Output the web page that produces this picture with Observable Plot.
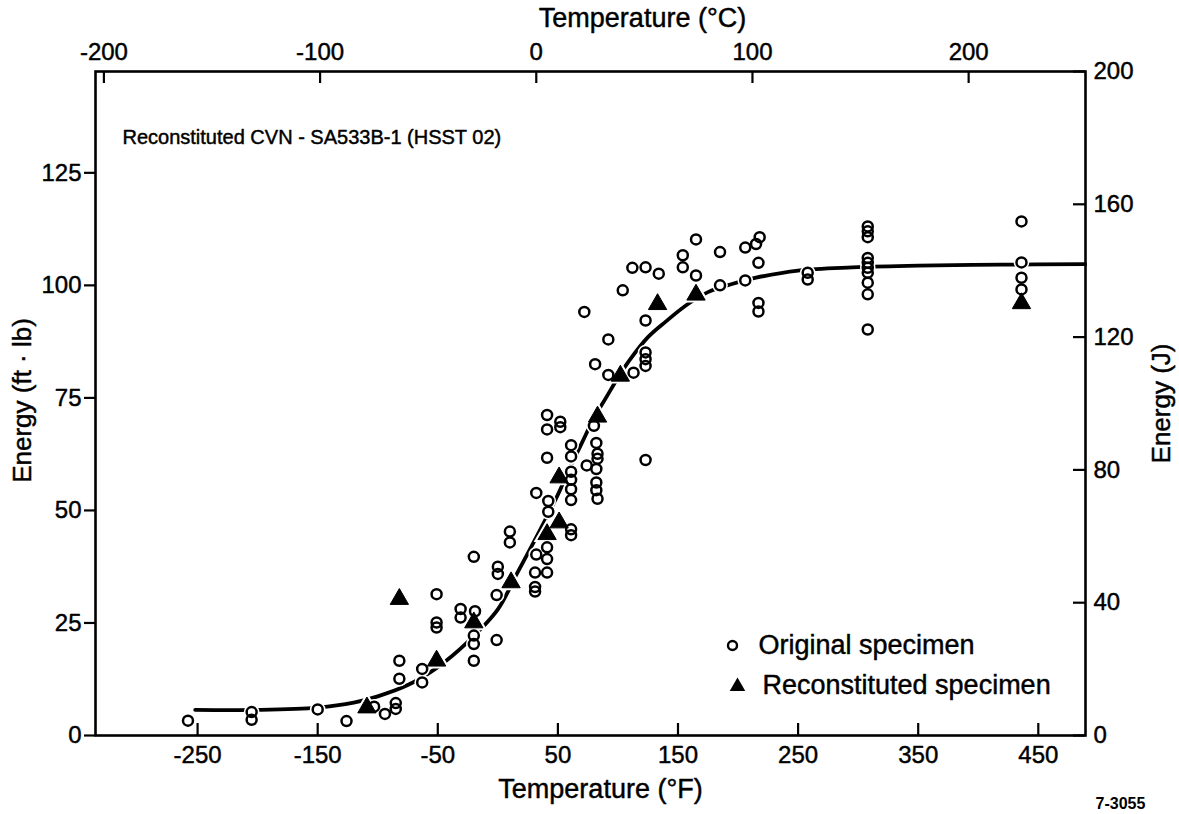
<!DOCTYPE html>
<html>
<head>
<meta charset="utf-8">
<script src="https://cdn.jsdelivr.net/npm/d3@7"></script>
<script src="https://cdn.jsdelivr.net/npm/@observablehq/plot@0.6"></script>
<style>
  html, body { margin: 0; padding: 0; background: #fff; }
  #chart svg { display: block; }
</style>
</head>
<body>
<div id="chart"></div>
<script>
// Charpy V-notch impact energy vs. test temperature, SA533B-1 plate (HSST 02)

// Original specimens: test temperature (°F) and absorbed energy (ft·lb)
const originalTemp = [
  -258, -205, -205, -150, -126, -103, -94, -85, -85, -82, -82, -63, -63,
  -51, -51, -51, -31, -31, -19, -20, -20, -20, -20, -1, -1, 0, 0, 10, 10,
  31, 31, 32, 31, 32, 41, 41, 41, 42, 42, 41, 41, 41, 52, 52, 61, 61,
  61, 61, 61, 61, 61, 61, 74, 80, 82, 83, 83, 82, 82, 82, 83,
  81, 92, 92, 113, 123, 123, 123, 123, 123, 72, 104, 112, 123, 134,
  154, 154, 165, 165, 185, 185, 206, 206, 215, 218, 217, 217, 217, 258, 258,
  308, 308, 308, 308, 308, 308, 308, 308, 308, 308,
  436, 436, 436, 436
];
const originalEnergy = [
  3.3, 5.2, 3.5, 5.8, 3.2, 6.4, 4.8, 7.2, 5.9, 16.6, 12.6, 14.8, 11.8,
  31.4, 25.1, 24.0, 28.1, 26.2, 27.6, 22.2, 20.3, 16.6, 39.7, 31.2, 21.2, 37.5, 35.9, 45.3, 42.9,
  33.0, 32.0, 40.2, 36.2, 53.9, 41.8, 39.2, 36.2, 52.1, 49.7, 71.2, 68.0, 61.7, 69.7, 68.5, 45.8, 44.5,
  64.5, 62.0, 58.6, 56.8, 54.7, 52.3, 60.0, 68.8, 65.0, 62.6, 61.5, 59.2, 56.2, 54.5, 52.6,
  82.5, 88.0, 80.1, 80.6, 85.1, 83.6, 82.1, 92.2, 61.2, 94.1, 98.9, 103.9, 104.0, 102.6,
  106.7, 104.0, 110.2, 102.2, 107.4, 100.0, 108.4, 101.1, 109.2, 110.7, 105.0, 96.1, 94.2, 102.8, 101.3,
  113.1, 112.0, 110.7, 106.1, 105.0, 103.9, 102.8, 100.6, 98.0, 90.2,
  114.2, 105.1, 101.7, 99.1
];

// Reconstituted specimens
const reconTemp = [-109, -82, -51, -20, 11, 41, 51, 51, 83, 102, 133, 165, 436];
const reconEnergy = [6.2, 30.3, 16.6, 25.1, 34.0, 44.7, 47.3, 57.3, 70.8, 79.9, 95.8, 97.9, 96.0];

// Fitted transition curve, read along its length
const curveTemp = [-252, -200, -150, -120, -100, -75, -50, -25, 0, 15, 30, 50, 60, 70, 80, 90,
  100, 110, 125, 140, 158, 175, 195, 215, 250, 295, 350, 420, 489];
const curveEnergy = [5.7, 5.7, 6.2, 7.3, 8.7, 11.2, 15.2, 20.8, 28.0, 35.5, 43.0, 53.5, 59.5, 65.0, 70.5, 75.0,
  79.5, 83.5, 88.5, 92.0, 95.8, 98.5, 100.3, 101.7, 103.3, 104.0, 104.4, 104.6, 104.7];

// Axis ticks
const fahrenheitTicks = [-250, -150, -50, 50, 150, 250, 350, 450];
const celsiusTicks = [-200, -100, 0, 100, 200];
const ftlbTicks = [0, 25, 50, 75, 100, 125];
const jouleTicks = [0, 40, 80, 120, 160, 200];

const legendLabels = ["Original specimen", "Reconstituted specimen"];

const JOULE_PER_FTLB = 1.35582;
const cToF = c => c * 9 / 5 + 32;
const jToFtlb = j => j / JOULE_PER_FTLB;

const original = originalTemp.map((t, i) => ({t, e: originalEnergy[i]}));
const recon = reconTemp.map((t, i) => ({t, e: reconEnergy[i]}));
const curve = curveTemp.map((t, i) => ({t, e: curveEnergy[i]}));

const W = 1179, H = 814;
const M = {top: 71, right: 94, bottom: 79, left: 95};
const frameW = W - M.left - M.right;
const frameH = H - M.top - M.bottom;
const font = "'Liberation Sans', Arial, Helvetica, sans-serif";
// thin outline gives the lettering a slightly heavier weight; labels are centred on their anchor line
const ink = {fill: "black", stroke: "black", strokeWidth: 0.45, lineAnchor: "middle"};

const chart = Plot.plot({
  width: W,
  height: H,
  marginTop: M.top,
  marginRight: M.right,
  marginBottom: M.bottom,
  marginLeft: M.left,
  style: {fontFamily: font, color: "black", background: "white"},
  x: {domain: [-335, 489.3], axis: null},
  y: {domain: [0, jToFtlb(200)], axis: null},
  marks: [
    // transition curve
    Plot.line(curve, {x: "t", y: "e", curve: "catmull-rom", stroke: "black", strokeWidth: 3.8}),
    // white knock-outs so the curve breaks around each symbol
    Plot.dot(original, {x: "t", y: "e", r: 7.8, fill: "white"}),
    Plot.dot(recon, {x: "t", y: "e", symbol: "triangle", r: 10, fill: "white"}),
    // data symbols
    Plot.dot(original, {x: "t", y: "e", r: 5, fill: "none", stroke: "black", strokeWidth: 2.5}),
    Plot.dot(recon, {x: "t", y: "e", symbol: "triangle", r: 6.8, fill: "black", stroke: "black", strokeWidth: 1}),

    // frame and tick marks
    Plot.frame({stroke: "black", strokeWidth: 2.6}),
    Plot.tickX(fahrenheitTicks, {x: d => d, insetTop: frameH - 12, strokeWidth: 2.2}),
    Plot.tickX(celsiusTicks, {x: cToF, insetBottom: frameH - 12, strokeWidth: 2.2}),
    Plot.tickY(ftlbTicks, {y: d => d, insetLeft: -11, insetRight: frameW, strokeWidth: 2.2}),
    Plot.tickY(jouleTicks, {y: jToFtlb, insetLeft: frameW - 12, strokeWidth: 2.2}),

    // tick labels
    Plot.text(fahrenheitTicks, {x: d => d, text: d => String(d), frameAnchor: "bottom", dy: 20, fontSize: 24, ...ink}),
    Plot.text(celsiusTicks, {x: cToF, text: d => String(d), frameAnchor: "top", dy: -19, fontSize: 24, ...ink}),
    Plot.text(ftlbTicks, {y: d => d, text: d => String(d), frameAnchor: "left", dx: -14, textAnchor: "end", fontSize: 24, ...ink}),
    Plot.text(jouleTicks, {y: jToFtlb, text: d => String(d), frameAnchor: "right", dx: 8, textAnchor: "start", fontSize: 24, ...ink}),

    // axis titles
    Plot.text(["Temperature (°F)"], {text: d => d, frameAnchor: "bottom", textAnchor: "middle", dx: 10, dy: 54, fontSize: 27, ...ink}),
    Plot.text(["Temperature (°C)"], {text: d => d, frameAnchor: "top", textAnchor: "middle", dx: 52, dy: -53, fontSize: 27, ...ink}),
    Plot.text(["Energy (ft · lb)"], {text: d => d, frameAnchor: "left", textAnchor: "middle", dx: -73, dy: -3, rotate: -90, fontSize: 26, ...ink}),
    Plot.text(["Energy (J)"], {text: d => d, frameAnchor: "right", textAnchor: "middle", dx: 76, rotate: -90, fontSize: 26, ...ink}),

    // specimen description
    Plot.text(["Reconstituted CVN - SA533B-1 (HSST 02)"], {text: d => d, frameAnchor: "top-left", textAnchor: "start", dx: 27, dy: 66, fontSize: 20, ...ink}),

    // legend
    Plot.dot(legendLabels.slice(0, 1), {frameAnchor: "bottom-right", dx: -353, dy: -90, r: 4.5, fill: "none", stroke: "black", strokeWidth: 2.4}),
    Plot.dot(legendLabels.slice(1, 2), {frameAnchor: "bottom-right", dx: -348, dy: -49, symbol: "triangle", r: 5.8, fill: "black"}),
    Plot.text(legendLabels.slice(0, 1), {text: d => d, frameAnchor: "bottom-right", textAnchor: "start", dx: -327, dy: -90, fontSize: 27, ...ink}),
    Plot.text(legendLabels.slice(1, 2), {text: d => d, frameAnchor: "bottom-right", textAnchor: "start", dx: -323, dy: -50, fontSize: 27, ...ink}),

    // figure number
    Plot.text(["7-3055"], {text: d => d, frameAnchor: "bottom-right", textAnchor: "middle", lineAnchor: "middle", dx: 35, dy: 68, fontSize: 16, fontWeight: "bold"})
  ]
});

document.getElementById("chart").append(chart);
</script>
</body>
</html>
